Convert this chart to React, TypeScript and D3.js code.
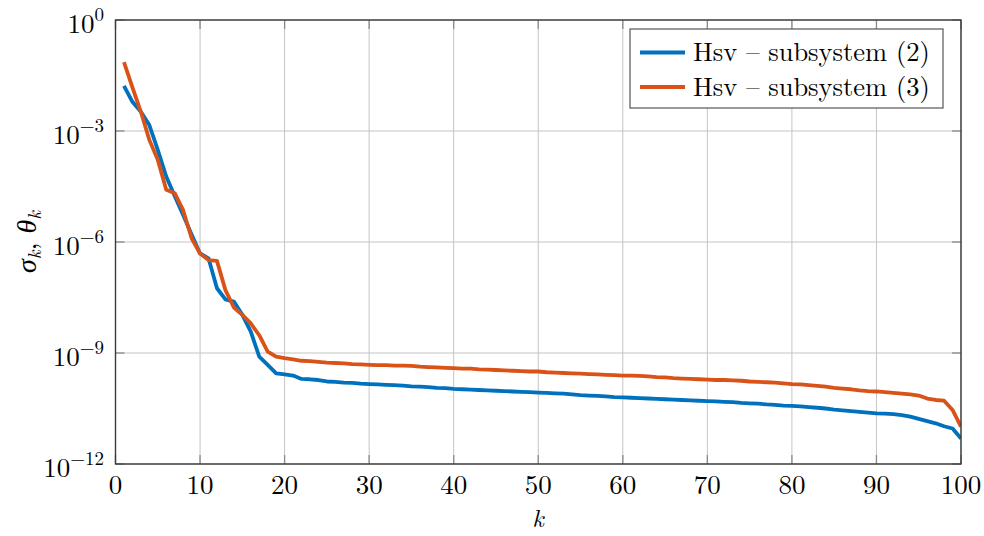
import React from "react";
import * as d3 from "d3";

const kValues: number[] = d3.range(1, 101);

// log10 of Hankel singular values
const hsv2Log: number[] = [
  -1.78, -2.21, -2.48, -2.84, -3.51, -4.23, -4.76, -5.27, -5.80, -6.31,
  -6.44, -7.25, -7.55, -7.61, -7.97, -8.42, -9.10, -9.32, -9.55, -9.58,
  -9.61, -9.70, -9.71, -9.73, -9.77, -9.78, -9.80, -9.81, -9.83, -9.84,
  -9.85, -9.86, -9.87, -9.88, -9.90, -9.91, -9.92, -9.94, -9.95, -9.97,
  -9.98, -9.99, -10.00, -10.01, -10.02, -10.03, -10.04, -10.05, -10.06, -10.07,
  -10.08, -10.09, -10.10, -10.12, -10.14, -10.15, -10.16, -10.17, -10.19, -10.20,
  -10.21, -10.22, -10.23, -10.24, -10.25, -10.26, -10.27, -10.28, -10.29, -10.30,
  -10.31, -10.32, -10.33, -10.35, -10.36, -10.37, -10.39, -10.40, -10.42, -10.43,
  -10.44, -10.46, -10.48, -10.50, -10.53, -10.55, -10.57, -10.59, -10.61, -10.63,
  -10.64, -10.65, -10.68, -10.72, -10.78, -10.84, -10.90, -10.98, -11.04, -11.31,
];

const hsv3Log: number[] = [
  -1.14, -1.82, -2.48, -3.24, -3.78, -4.59, -4.68, -5.14, -5.90, -6.31,
  -6.49, -6.51, -7.30, -7.77, -7.97, -8.20, -8.52, -8.96, -9.10, -9.14,
  -9.17, -9.21, -9.22, -9.24, -9.26, -9.27, -9.28, -9.30, -9.31, -9.32,
  -9.33, -9.33, -9.34, -9.34, -9.35, -9.37, -9.38, -9.39, -9.40, -9.41,
  -9.42, -9.42, -9.44, -9.45, -9.46, -9.47, -9.48, -9.49, -9.50, -9.50,
  -9.52, -9.53, -9.54, -9.55, -9.56, -9.57, -9.58, -9.59, -9.60, -9.61,
  -9.61, -9.62, -9.63, -9.65, -9.66, -9.68, -9.69, -9.70, -9.71, -9.72,
  -9.73, -9.73, -9.74, -9.75, -9.77, -9.78, -9.79, -9.80, -9.82, -9.84,
  -9.85, -9.87, -9.89, -9.91, -9.94, -9.96, -9.98, -10.01, -10.03, -10.04,
  -10.06, -10.08, -10.10, -10.12, -10.15, -10.23, -10.27, -10.29, -10.54, -10.99,
];

const xTicks: number[] = [0, 10, 20, 30, 40, 50, 60, 70, 80, 90, 100];
const yTickExps: number[] = [0, -3, -6, -9, -12];
const seriesNames: string[] = ["Hsv \u2013 subsystem (2)", "Hsv \u2013 subsystem (3)"];
const seriesColors: string[] = ["#0072BD", "#D95319"];

const W = 984;
const H = 536;
const left = 115.5;
const right = 961;
const top = 20;
const bottom = 464;
const FONT =
  '"Latin Modern Roman", "CMU Serif", "Liberation Serif", "DejaVu Serif", "Noto Serif", Tinos, "Times New Roman", Times, FreeSerif, serif';

export default function App() {
  const x = d3.scaleLinear().domain([0, 100]).range([left, right]);
  const y = d3.scaleLog().domain([1e-12, 1]).range([bottom, top]);

  const line = d3
    .line<[number, number]>()
    .x((d) => x(d[0]))
    .y((d) => y(Math.pow(10, d[1])));

  const series = [hsv2Log, hsv3Log].map((arr) =>
    kValues.map((k, i) => [k, arr[i]] as [number, number])
  );

  const fmtExp = (e: number) => (e < 0 ? "\u2212" + Math.abs(e) : String(e));
  const ts = { fontFamily: FONT } as React.CSSProperties;

  return (
    <svg
      width={W}
      height={H}
      style={{ position: "absolute", left: 0, top: 0, background: "#fff", fontFamily: FONT }}
    >
      <rect x={0} y={0} width={W} height={H} fill="#fff" />
      <defs>
        <clipPath id="plotclip">
          <rect x={left} y={top} width={right - left} height={bottom - top} />
        </clipPath>
      </defs>
      {xTicks.map((t) => (
        <line key={"gx" + t} x1={x(t)} x2={x(t)} y1={top} y2={bottom} stroke="#c4c4c4" strokeWidth={1} />
      ))}
      {yTickExps.map((e) => (
        <line key={"gy" + e} x1={left} x2={right} y1={y(Math.pow(10, e))} y2={y(Math.pow(10, e))} stroke="#c4c4c4" strokeWidth={1} />
      ))}
      {xTicks.map((t) => (
        <g key={"tx" + t}>
          <line x1={x(t)} x2={x(t)} y1={bottom} y2={bottom - 9} stroke="#8a8a8a" strokeWidth={1.3} />
          <line x1={x(t)} x2={x(t)} y1={top} y2={top + 9} stroke="#8a8a8a" strokeWidth={1.3} />
        </g>
      ))}
      {yTickExps.map((e) => (
        <g key={"ty" + e}>
          <line x1={left} x2={left + 9} y1={y(Math.pow(10, e))} y2={y(Math.pow(10, e))} stroke="#8a8a8a" strokeWidth={1.3} />
          <line x1={right} x2={right - 9} y1={y(Math.pow(10, e))} y2={y(Math.pow(10, e))} stroke="#8a8a8a" strokeWidth={1.3} />
        </g>
      ))}
      <g clipPath="url(#plotclip)">
        {series.map((s, i) => (
          <path key={"s" + i} d={line(s) || ""} fill="none" stroke={seriesColors[i]} strokeWidth={3.8} strokeLinejoin="round" />
        ))}
      </g>
      <rect x={left} y={top} width={right - left} height={bottom - top} fill="none" stroke="#3a3a3a" strokeWidth={1.4} />
      {xTicks.map((t) => (
        <text key={"lx" + t} x={x(t)} y={494} textAnchor="middle" fontSize={27} fill="#000" style={ts}>
          {t}
        </text>
      ))}
      {yTickExps.map((e) => (
        <text key={"ly" + e} x={104} y={y(Math.pow(10, e)) + 12.5} textAnchor="end" fontSize={27} fill="#000" style={ts}>
          10
          <tspan dy={-12} fontSize={19}>{fmtExp(e)}</tspan>
        </text>
      ))}
      <text x={538} y={527} textAnchor="middle" fontSize={25} fontStyle="italic" fill="#000" style={ts}>
        k
      </text>
      <text
        transform={`translate(36, ${(top + bottom) / 2}) rotate(-90)`}
        textAnchor="middle"
        fontSize={28}
        fill="#000"
        style={ts}
      >
        <tspan fontStyle="italic">σ</tspan>
        <tspan fontStyle="italic" fontSize={19} dy={5}>k</tspan>
        <tspan dy={-5}>, </tspan>
        <tspan fontStyle="italic">θ</tspan>
        <tspan fontStyle="italic" fontSize={19} dy={5}>k</tspan>
      </text>
      <rect x={630} y={29} width={313} height={79} fill="#fff" stroke="#555" strokeWidth={1.2} />
      {seriesNames.map((n, i) => (
        <g key={"lg" + i}>
          <line x1={640} x2={685} y1={52.5 + i * 34.5} y2={52.5 + i * 34.5} stroke={seriesColors[i]} strokeWidth={3.8} />
          <text x={693} y={61 + i * 34.5} fontSize={26.5} fill="#000" style={ts}>
            {n}
          </text>
        </g>
      ))}
    </svg>
  );
}
